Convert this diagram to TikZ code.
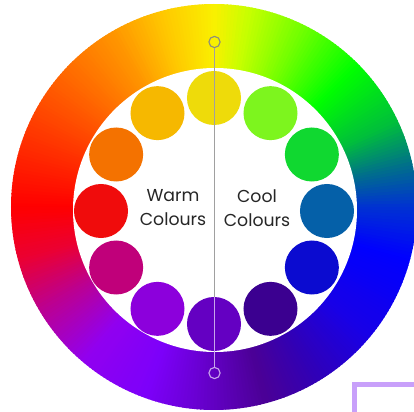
\documentclass[tikz,border=0pt]{standalone}
\usepackage{fontspec}
\newfontfamily\labelfont{Poppins}
% ring stops
\definecolor{ring0}{RGB}{250,240,0}
\definecolor{ring1}{RGB}{255,200,0}
\definecolor{ring2}{RGB}{255,150,0}
\definecolor{ring3}{RGB}{255,100,0}
\definecolor{ring4}{RGB}{255,50,0}
\definecolor{ring5}{RGB}{255,0,0}
\definecolor{ring6}{RGB}{235,0,50}
\definecolor{ring7}{RGB}{190,0,140}
\definecolor{ring8}{RGB}{145,0,240}
\definecolor{ring9}{RGB}{125,0,250}
\definecolor{ring10}{RGB}{105,0,210}
\definecolor{ring11}{RGB}{75,0,150}
\definecolor{ring12}{RGB}{50,0,180}
\definecolor{ring13}{RGB}{25,0,230}
\definecolor{ring14}{RGB}{0,0,255}
\definecolor{ring15}{RGB}{0,50,210}
\definecolor{ring16}{RGB}{0,110,140}
\definecolor{ring17}{RGB}{0,190,60}
\definecolor{ring18}{RGB}{0,255,0}
\definecolor{ring19}{RGB}{120,255,0}
\definecolor{ring20}{RGB}{200,255,0}
% the twelve dots
\definecolor{dot0}{RGB}{238,219,10}
\definecolor{dot1}{RGB}{125,245,30}
\definecolor{dot2}{RGB}{16,216,48}
\definecolor{dot3}{RGB}{5,96,168}
\definecolor{dot4}{RGB}{11,11,208}
\definecolor{dot5}{RGB}{59,0,144}
\definecolor{dot6}{RGB}{100,0,194}
\definecolor{dot7}{RGB}{140,0,220}
\definecolor{dot8}{RGB}{192,0,122}
\definecolor{dot9}{RGB}{240,12,12}
\definecolor{dot10}{RGB}{244,114,0}
\definecolor{dot11}{RGB}{246,184,0}
\definecolor{markgray}{RGB}{140,140,125}
\definecolor{linegray}{RGB}{160,160,160}
\definecolor{lilac}{RGB}{200,165,235}
\definecolor{bracketlilac}{RGB}{200,160,250}
\begin{document}
\begin{tikzpicture}[x=0.025cm, y=0.025cm,
    dotc/.style={circle, minimum size=1.35cm, inner sep=0pt},
    marker/.style={circle, draw, line width=0.8pt, minimum size=0.28cm, inner sep=0pt},
    sidetext/.style={font=\labelfont\fontsize{12.3}{17}\selectfont, text=black!85, align=center}]
    \useasboundingbox (-214,-205) rectangle (200,207);
    % colour ring
    \foreach \a/\b/\ca/\cb in {90/105/ring0/ring1, 105/120/ring1/ring2, 120/140/ring2/ring3,
        140/160/ring3/ring4, 160/180/ring4/ring5, 180/195/ring5/ring6, 195/210/ring6/ring7,
        210/230/ring7/ring8, 230/250/ring8/ring9, 250/265/ring9/ring10, 265/285/ring10/ring11,
        285/300/ring11/ring12, 300/320/ring12/ring13, 320/345/ring13/ring14, 345/360/ring14/ring15,
        360/372/ring15/ring16, 372/385/ring16/ring17, 385/405/ring17/ring18, 405/425/ring18/ring19,
        425/440/ring19/ring20, 440/450/ring20/ring0}{
        \pgfmathtruncatemacro\n{\b-\a}
        \foreach \k in {1,...,\n}{
            \pgfmathtruncatemacro\p{round(100*(\k-0.5)/\n)}
            \colorlet{seg}{\cb!\p!\ca}
            \fill[seg] (0,0) -- (\a+\k-1:203) arc[start angle=\a+\k-1, end angle=\a+\k+0.4, radius=203] -- cycle;
        }
    }
    \fill[white] (1,-3) circle[radius=142];
    % dots
    \foreach \ang/\col [count=\i] in {90/dot0, 60/dot1, 30/dot2, 0/dot3, -30/dot4, -60/dot5,
        -90/dot6, -120/dot7, -150/dot8, 180/dot9, 150/dot10, 120/dot11}
        \node[dotc, fill=\col] (dot\i) at ([shift={(\ang:113)}]0,-4) {};
    % divider
    \node[marker, draw=markgray] (topend) at (0.5,165) {};
    \node[marker, draw=lilac] (botend) at (0.5,-166) {};
    \coordinate (split) at (0.5,-90);
    \draw[linegray, line width=0.8pt] (topend) -- (split);
    \draw[lilac, line width=0.8pt] (split) -- (botend);
    \node[sidetext] (warm) at (-41,-1) {Warm\\Colours};
    \node[sidetext] (cool) at (43,-1) {Cool\\Colours};
    % corner bracket
    \draw[bracketlilac, line width=3.3pt] (140.7,-215) -- (140.7,-177.2) -- (210,-177.2);
\end{tikzpicture}
\end{document}
